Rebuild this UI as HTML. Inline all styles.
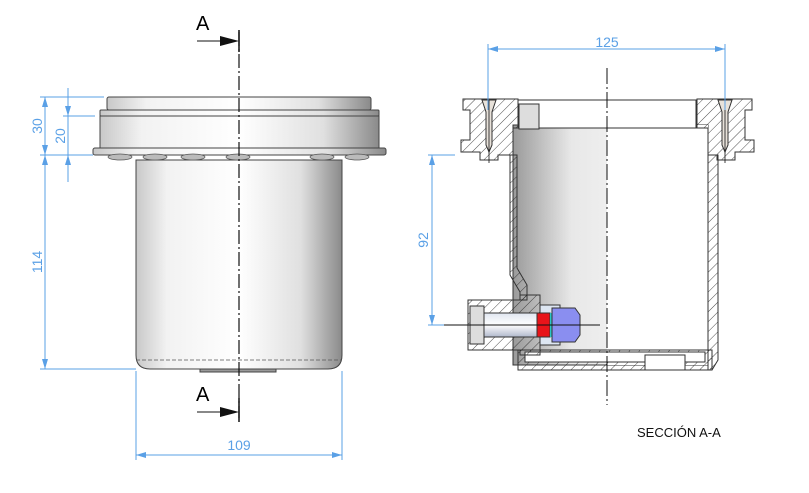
<!DOCTYPE html>
<html><head><meta charset="utf-8"><style>
html,body{margin:0;padding:0;background:#fff;width:809px;height:493px;overflow:hidden}
svg{display:block}
text{font-family:"Liberation Sans",sans-serif}
</style></head><body>
<svg width="809" height="493" viewBox="0 0 809 493" xmlns="http://www.w3.org/2000/svg">
<defs>
<linearGradient id="g1" x1="0" x2="1"><stop offset="0" stop-color="#c8c8c8"/><stop offset=".15" stop-color="#f2f2f2"/><stop offset=".5" stop-color="#ffffff"/><stop offset=".8" stop-color="#e0e0e0"/><stop offset="1" stop-color="#8a8a8a"/></linearGradient>
<linearGradient id="g2" x1="0" x2="1"><stop offset="0" stop-color="#9a9a9a"/><stop offset=".3" stop-color="#e8e8e8"/><stop offset="1" stop-color="#ffffff"/></linearGradient>
<linearGradient id="g3" x1="0" x2="0" y1="0" y2="1"><stop offset="0" stop-color="#e0e6f0"/><stop offset=".5" stop-color="#ffffff"/><stop offset="1" stop-color="#b0b8cc"/></linearGradient>
<pattern id="h" width="7" height="7" patternUnits="userSpaceOnUse" patternTransform="rotate(45)"><line x1="0" y1="0" x2="0" y2="7" stroke="#222" stroke-width="0.8"/></pattern>
<marker id="ab" viewBox="0 0 10 6" refX="10" refY="3" markerWidth="10" markerHeight="6" orient="auto-start-reverse" markerUnits="userSpaceOnUse"><path d="M0,0L10,3L0,6z" fill="#5aa0e6"/></marker>
</defs>

<!-- LEFT VIEW -->
<g stroke="#444" stroke-width="1">
<rect x="107" y="97" width="264" height="13" rx="2" fill="url(#g1)"/>
<rect x="100" y="110" width="279" height="6" rx="1" fill="url(#g1)"/>
<rect x="100" y="116" width="279" height="33" fill="url(#g1)"/>
<rect x="93" y="148" width="293" height="7" rx="2" fill="url(#g1)"/>
<path d="M136,160 H342 V355 Q342,369 328,369 H150 Q136,369 136,355 Z" fill="url(#g1)"/>
<rect x="200" y="369" width="76" height="3" fill="#999"/>
</g>
<g fill="#bbb" stroke="#555" stroke-width=".7">
<ellipse cx="120" cy="157" rx="12" ry="3"/><ellipse cx="155" cy="157" rx="12" ry="3"/><ellipse cx="193" cy="157" rx="12" ry="3"/><ellipse cx="238" cy="157" rx="12" ry="3"/><ellipse cx="322" cy="157" rx="12" ry="3"/><ellipse cx="357" cy="157" rx="12" ry="3"/>
</g>
<line x1="136" y1="360" x2="342" y2="360" stroke="#555" stroke-width=".8" stroke-dasharray="4 2"/>
<line x1="239" y1="32" x2="239" y2="418" stroke="#111" stroke-width="1.2" stroke-dasharray="14 3 2 3"/>
<line x1="239" y1="30" x2="239" y2="52" stroke="#111" stroke-width="1.5"/>
<line x1="239" y1="398" x2="239" y2="422" stroke="#111" stroke-width="1.5"/>
<line x1="197" y1="41" x2="225" y2="41" stroke="#111"/><path d="M220,36 L239,41 L220,46Z" fill="#111"/>
<line x1="197" y1="412" x2="225" y2="412" stroke="#111"/><path d="M220,407 L239,412 L220,417Z" fill="#111"/>
<text x="196" y="30" font-size="20">A</text>
<text x="196" y="401" font-size="20">A</text>

<!-- left dims -->
<g stroke="#5aa0e6" stroke-width="1" fill="none">
<line x1="40" y1="97" x2="104" y2="97"/><line x1="63" y1="116" x2="95" y2="116"/>
<line x1="40" y1="155" x2="93" y2="155"/><line x1="40" y1="369" x2="136" y2="369"/>
<line x1="45" y1="97" x2="45" y2="155" marker-start="url(#ab)" marker-end="url(#ab)"/>
<line x1="45" y1="155" x2="45" y2="369" marker-start="url(#ab)" marker-end="url(#ab)"/>
<line x1="68" y1="88" x2="68" y2="116" marker-end="url(#ab)"/>
<line x1="68" y1="155" x2="68" y2="182" marker-start="url(#ab)"/>
<line x1="68" y1="116" x2="68" y2="155"/>
<line x1="136" y1="371" x2="136" y2="460"/><line x1="342" y1="371" x2="342" y2="460"/>
<line x1="136" y1="455" x2="342" y2="455" marker-start="url(#ab)" marker-end="url(#ab)"/>
</g>
<g fill="#5aa0e6" font-size="14">
<text transform="translate(42,126) rotate(-90)" text-anchor="middle">30</text>
<text transform="translate(65,136) rotate(-90)" text-anchor="middle">20</text>
<text transform="translate(42,262) rotate(-90)" text-anchor="middle">114</text>
<text x="239" y="450" text-anchor="middle">109</text>
<text x="607" y="47" text-anchor="middle">125</text>
<text transform="translate(428,240) rotate(-90)" text-anchor="middle">92</text>
</g>

<!-- RIGHT VIEW section -->
<g stroke="#333" stroke-width="1">
<!-- inner cylinder fill -->
<rect x="513" y="125" width="195" height="240" fill="url(#g2)"/>
<rect x="607" y="125" width="101" height="240" fill="#fff" stroke="none"/>
<!-- top rim inner -->
<rect x="518" y="100" width="178" height="28" fill="#fff"/>
<rect x="519" y="104" width="20" height="25" fill="#ddd"/>
<!-- flanges hatched -->
<path d="M463,99 H518 V128 H513 V155 H498 V160 H480 V152 H461 V140 H470 V110 H463Z" fill="url(#h)"/>
<path d="M697,99 H752 V110 H745 V140 H754 V152 H735 V160 H717 V155 H708 V128 H697Z" fill="url(#h)"/>
<!-- screws -->
<path d="M482,100 H496 L492,112 V145 L489,152 L486,145 V112Z" fill="#e8e2da"/>
<path d="M718,100 H732 L728,112 V145 L725,152 L722,145 V112Z" fill="#e8e2da"/>
<!-- walls -->
<path d="M510,155 H517 V268 L527,285 V300 H520 V292 L510,275Z" fill="url(#h)"/>
<path d="M708,155 H718 V360 L712,370 H708Z" fill="url(#h)"/>
<path d="M518,350 H712 V370 H518Z" fill="url(#h)"/>
<rect x="525" y="352" width="180" height="10" fill="#fff"/>
<rect x="645" y="355" width="40" height="15" fill="#fff"/>
<!-- connector -->
<path d="M468,300 H520 V295 H540 V355 H520 V350 H468Z" fill="url(#h)"/>
<rect x="470" y="306" width="14" height="38" fill="#ddd"/>
<rect x="484" y="313" width="55" height="24" fill="url(#g3)"/>
<path d="M540,305 H560 V345 H540Z" fill="#dde6f2"/>
<rect x="537" y="313" width="13" height="24" fill="#e8141a"/>
<rect x="550" y="313" width="2" height="24" fill="#29c6c6" stroke="none"/>
<path d="M552,308 H575 L580,315 V335 L575,342 H552Z" fill="#8a8ef0"/>
</g>
<line x1="607" y1="68" x2="607" y2="405" stroke="#111" stroke-width="1" stroke-dasharray="16 3 2 3"/>
<line x1="444" y1="325" x2="600" y2="325" stroke="#111" stroke-width="1"/>
<line x1="489" y1="100" x2="489" y2="163" stroke="#111" stroke-width=".8"/>
<line x1="725" y1="100" x2="725" y2="163" stroke="#111" stroke-width=".8"/>

<g stroke="#5aa0e6" stroke-width="1" fill="none">
<line x1="488" y1="44" x2="488" y2="110"/><line x1="725" y1="44" x2="725" y2="110"/>
<line x1="488" y1="49" x2="725" y2="49" marker-start="url(#ab)" marker-end="url(#ab)"/>
<line x1="428" y1="155" x2="455" y2="155"/><line x1="428" y1="325" x2="444" y2="325"/>
<line x1="432" y1="155" x2="432" y2="325" marker-start="url(#ab)" marker-end="url(#ab)"/>
</g>
<text x="637" y="437" font-size="13" fill="#111">SECCIÓN A-A</text>
</svg>
</body></html>
